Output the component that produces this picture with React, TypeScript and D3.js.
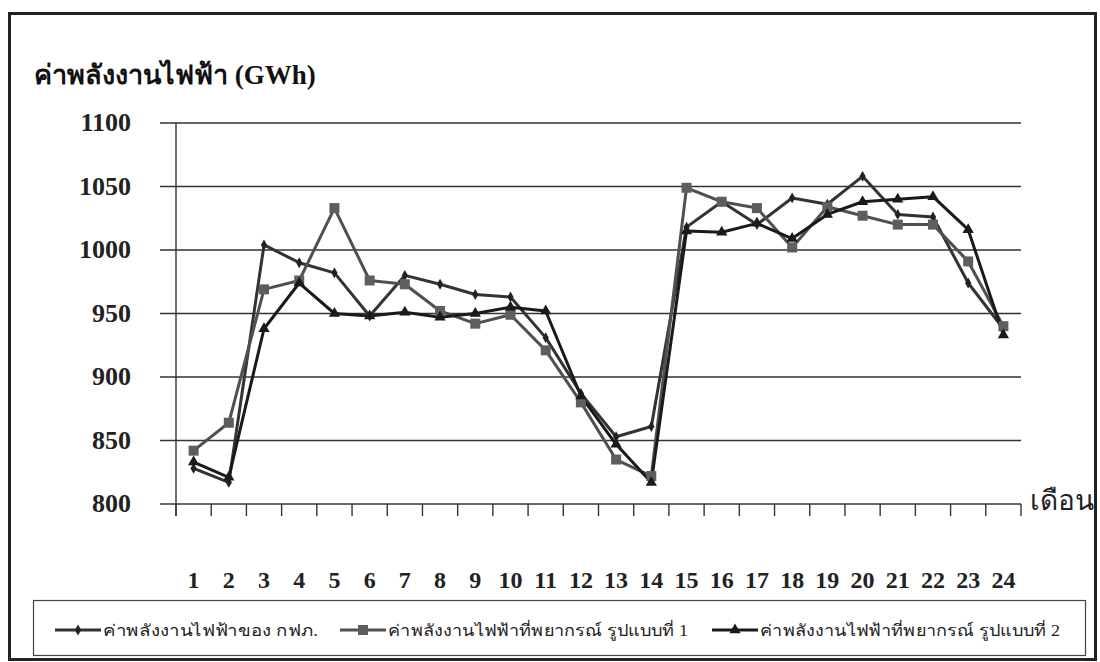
import React, { useEffect, useRef } from "react";
import * as d3 from "d3";

const W = 1100;
const H = 662;
const margin = { top: 123, right: 79, bottom: 158, left: 176 };

const months = ["1", "2", "3", "4", "5", "6", "7", "8", "9", "10", "11", "12",
  "13", "14", "15", "16", "17", "18", "19", "20", "21", "22", "23", "24"];
const yTicks = [800, 850, 900, 950, 1000, 1050, 1100];

// ค่าจริงของ กฟภ.
const actual = [828, 817, 1004, 990, 982, 948, 980, 973, 965, 963, 931, 887,
  853, 861, 1018, 1038, 1020, 1041, 1036, 1058, 1028, 1026, 974, 938];
// แบบจำลองที่ 1
const model1 = [842, 864, 969, 976, 1033, 976, 973, 952, 942, 949, 921, 880,
  835, 822, 1049, 1038, 1033, 1002, 1034, 1027, 1020, 1020, 991, 940];
// แบบจำลองที่ 2
const model2 = [833, 821, 938, 974, 950, 948, 951, 947, 950, 955, 952, 885,
  847, 817, 1015, 1014, 1021, 1009, 1028, 1038, 1040, 1042, 1016, 933];

const seriesNames = [
  "ค่าพลังงานไฟฟ้าของ กฟภ.",
  "ค่าพลังงานไฟฟ้าที่พยากรณ์ รูปแบบที่ 1",
  "ค่าพลังงานไฟฟ้าที่พยากรณ์ รูปแบบที่ 2",
];

const serif = "'Liberation Serif', 'DejaVu Serif', serif";

export default function App() {
  const ref = useRef<SVGSVGElement>(null);

  useEffect(() => {
    const svg = d3.select(ref.current);
    svg.selectAll("*").remove();

    const innerW = W - margin.left - margin.right;
    const x = d3.scaleBand().domain(months).range([margin.left, margin.left + innerW]);
    const y = d3.scaleLinear().domain([800, 1100]).range([H - margin.bottom, margin.top]);

    svg.append("rect")
      .attr("width", W).attr("height", H).attr("fill", "#fff");

    // outer frame
    svg.append("rect")
      .attr("x", 9.5).attr("y", 13.5)
      .attr("width", 1086).attr("height", 646)
      .attr("fill", "none").attr("stroke", "#222").attr("stroke-width", 3);

    // title
    svg.append("text")
      .attr("x", 34).attr("y", 84)
      .style("font", `bold 27px ${serif}`)
      .attr("fill", "#111")
      .text("ค่าพลังงานไฟฟ้า (GWh)");

    // gridlines + y labels
    const grid = svg.append("g");
    yTicks.forEach(t => {
      grid.append("line")
        .attr("x1", 160).attr("x2", margin.left + innerW)
        .attr("y1", y(t)).attr("y2", y(t))
        .attr("stroke", "#333").attr("stroke-width", 1.4);
      grid.append("text")
        .attr("x", 131).attr("y", y(t) + 8)
        .attr("text-anchor", "end")
        .style("font", `bold 26px ${serif}`)
        .attr("fill", "#222")
        .text(t);
    });

    // y axis line
    svg.append("line")
      .attr("x1", margin.left).attr("x2", margin.left)
      .attr("y1", y(1100)).attr("y2", y(800) + 12)
      .attr("stroke", "#333").attr("stroke-width", 1.4);

    // x ticks between categories
    const step = x.step();
    d3.range(months.length + 1).forEach(i => {
      const xx = margin.left + i * step;
      svg.append("line")
        .attr("x1", xx).attr("x2", xx)
        .attr("y1", y(800)).attr("y2", y(800) + 12)
        .attr("stroke", "#333").attr("stroke-width", 1.4);
    });

    // month labels
    svg.append("g").selectAll("text")
      .data(months)
      .join("text")
      .attr("x", d => x(d)! + step / 2)
      .attr("y", 588)
      .attr("text-anchor", "middle")
      .style("font", `bold 24px ${serif}`)
      .attr("fill", "#222")
      .text(d => d);

    svg.append("text")
      .attr("x", 1030).attr("y", 510)
      .style("font", `28px ${serif}`)
      .attr("fill", "#222")
      .text("เดือน");

    const line = d3.line<number>()
      .x((_, i) => x(months[i])! + step / 2)
      .y(d => y(d));

    const styles = [
      { data: actual, color: "#333", marker: d3.symbolDiamond, size: 34, fill: "#222" },
      { data: model1, color: "#505050", marker: d3.symbolSquare, size: 100, fill: "#5e5e5e" },
      { data: model2, color: "#1a1a1a", marker: d3.symbolTriangle, size: 55, fill: "#1a1a1a" },
    ];

    styles.forEach(s => {
      svg.append("path")
        .datum(s.data)
        .attr("fill", "none")
        .attr("stroke", s.color)
        .attr("stroke-width", 3)
        .attr("stroke-linejoin", "round")
        .attr("d", line);
    });
    styles.forEach(s => {
      svg.append("g").selectAll("path")
        .data(s.data)
        .join("path")
        .attr("transform", (d, i) => `translate(${x(months[i])! + step / 2},${y(d)})`)
        .attr("d", d3.symbol().type(s.marker).size(s.size)())
        .attr("fill", s.fill);
    });

    // legend
    const lg = svg.append("g");
    lg.append("rect")
      .attr("x", 33.5).attr("y", 600.5)
      .attr("width", 1052).attr("height", 55)
      .attr("fill", "#fff").attr("stroke", "#444").attr("stroke-width", 1.2);
    const items = [
      { x0: 55, tw: 215 },
      { x0: 340, tw: 300 },
      { x0: 712, tw: 300 },
    ];
    items.forEach((it, i) => {
      const s = styles[i];
      lg.append("line")
        .attr("x1", it.x0).attr("x2", it.x0 + 46)
        .attr("y1", 630).attr("y2", 630)
        .attr("stroke", s.color).attr("stroke-width", 3);
      lg.append("path")
        .attr("transform", `translate(${it.x0 + 23},630)`)
        .attr("d", d3.symbol().type(s.marker).size(s.size)())
        .attr("fill", s.fill);
      lg.append("text")
        .attr("x", it.x0 + 48).attr("y", 636)
        .attr("textLength", it.tw)
        .attr("lengthAdjust", "spacingAndGlyphs")
        .style("font", `16px ${serif}`)
        .attr("fill", "#222")
        .text(seriesNames[i]);
    });
  }, []);

  return (
    <svg ref={ref} width={W} height={H}
      style={{ position: "absolute", left: 0, top: 0, display: "block" }} />
  );
}
